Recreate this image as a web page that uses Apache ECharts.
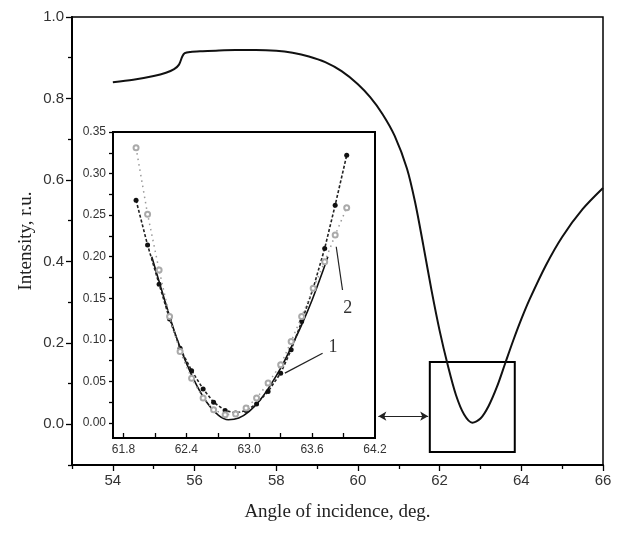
<!DOCTYPE html>
<html style="height:100%;">
<head>
<meta charset="UTF-8" />
<title>Intensity vs angle of incidence</title>
<script src="https://cdn.jsdelivr.net/npm/echarts@6/dist/echarts.min.js"></script>
</head>
<body style="margin:0;padding:0;height:100%;background:#fff;">
<div id="chart" style="width:621px;height:537px;"></div>
<script type="text/javascript">
// main curve: angle (deg) / intensity (r.u.)
const mainAngle = [54.0, 54.5, 55.0, 55.3, 55.5, 55.62, 55.7, 55.76, 55.9, 56.2, 56.6, 57.0, 57.5, 58.0, 58.4, 58.8, 59.2, 59.6, 60.0, 60.3, 60.6, 60.9, 61.2, 61.4, 61.6, 61.8, 62.0, 62.2, 62.4, 62.6, 62.8, 63.0, 63.2, 63.4, 63.6, 63.8, 64.0, 64.2, 64.6, 65.0, 65.5, 66.0];
const mainIntensity = [0.840, 0.846, 0.855, 0.863, 0.872, 0.883, 0.903, 0.911, 0.914, 0.916, 0.918, 0.919, 0.919, 0.917, 0.912, 0.903, 0.889, 0.867, 0.835, 0.803, 0.762, 0.708, 0.628, 0.545, 0.440, 0.330, 0.230, 0.145, 0.072, 0.024, 0.004, 0.014, 0.045, 0.091, 0.148, 0.205, 0.258, 0.306, 0.390, 0.460, 0.528, 0.580];

// inset: measured points 1 (filled) and 2 (open), theory (solid)
const insetAngle = [61.92, 62.03, 62.14, 62.24, 62.34, 62.45, 62.56, 62.66, 62.77, 62.87, 62.97, 63.07, 63.18, 63.3, 63.4, 63.5, 63.61, 63.72, 63.82, 63.93];
const measured1 = [0.268, 0.214, 0.167, 0.125, 0.090, 0.063, 0.041, 0.025, 0.015, 0.012, 0.015, 0.023, 0.038, 0.060, 0.088, 0.122, 0.162, 0.210, 0.262, 0.322];
const measured2 = [0.331, 0.251, 0.184, 0.128, 0.086, 0.054, 0.030, 0.016, 0.010, 0.011, 0.018, 0.030, 0.048, 0.070, 0.098, 0.128, 0.162, 0.194, 0.226, 0.259];
const theoryAngle = [62.07, 62.2, 62.3, 62.4, 62.5, 62.6, 62.7, 62.8, 62.9, 63.0, 63.1, 63.2, 63.3, 63.4, 63.5, 63.6, 63.7, 63.75];
const theoryIntensity = [0.200, 0.145, 0.105, 0.072, 0.045, 0.024, 0.010, 0.004, 0.006, 0.014, 0.027, 0.045, 0.066, 0.091, 0.118, 0.148, 0.182, 0.200];

// ticks
const mainXMajor = [54, 56, 58, 60, 62, 64, 66];
const mainXMinor = [53, 55, 57, 59, 61, 63, 65];
const mainYMajor = [0, 0.2, 0.4, 0.6, 0.8, 1.0];
const mainYMinor = [-0.1, 0.1, 0.3, 0.5, 0.7, 0.9];
const insetXLabels = [61.8, 62.4, 63.0, 63.6, 64.2];
const insetXTicks = [61.8, 62.1, 62.4, 62.7, 63.0, 63.3, 63.6, 63.9];
const insetYLabels = [0, 0.05, 0.10, 0.15, 0.20, 0.25, 0.30, 0.35];
const insetYTicks = [0, 0.025, 0.05, 0.075, 0.10, 0.125, 0.15, 0.175, 0.20, 0.225, 0.25, 0.275, 0.30, 0.325, 0.35];

// zoom box on main plot and the labels for the curves in the inset
const zoomBox = [[61.76, 0.153], [63.84, -0.068]];
const arrowEnds = [[60.5, 0.02], [61.72, 0.02]];
const label1 = {text: '1', at: [63.8, 0.091], line: [[63.70, 0.084], [63.34, 0.060]]};
const label2 = {text: '2', at: [63.94, 0.138], line: [[63.89, 0.160], [63.83, 0.212]]};

const zip = (a, b) => a.map((v, i) => [v, b[i]]);
const sans = 'Liberation Sans, Arial, sans-serif';
const serif = 'Liberation Serif, Times New Roman, serif';

const chart = echarts.init(document.getElementById('chart'));

// axis that only carries labels
function labelAxis(extra, lineWidth) {
	return Object.assign({
		type: 'value',
		splitLine: {show: false},
		axisLine: {show: true, onZero: false, lineStyle: {color: '#000', width: lineWidth}},
		axisTick: {show: false}
	}, extra);
}
// axis that only carries ticks (empty labels)
function tickAxis(extra, ticks, len, inside, lineWidth) {
	return Object.assign({
		type: 'value',
		splitLine: {show: false},
		axisLine: {show: true, onZero: false, lineStyle: {color: '#000', width: lineWidth}},
		axisTick: {show: true, inside: inside, length: len, customValues: ticks, lineStyle: {color: '#000', width: 1.3}},
		axisLabel: {formatter: () => ''}
	}, extra);
}

function markLabel(lbl) {
	return {
		silent: true,
		symbol: 'none',
		lineStyle: {color: '#222', width: 1.2, type: 'solid'},
		label: {show: false},
		data: [[{coord: lbl.line[0]}, {coord: lbl.line[1]}]]
	};
}
function markText(lbl) {
	return {
		silent: true,
		symbol: 'circle',
		symbolSize: 0,
		label: {show: true, position: 'inside', formatter: lbl.text, color: '#333', fontFamily: serif, fontSize: 18},
		data: [{coord: lbl.at}]
	};
}

const option = {
	animation: false,
	backgroundColor: '#fff',
	grid: [
		{left: 72, right: 18, top: 17, bottom: 72, show: true, borderColor: '#000', borderWidth: 1.5},
		{left: 113, top: 132, width: 262, height: 306, show: true, borderColor: '#000', borderWidth: 2}
	],
	xAxis: [
		labelAxis({
			gridIndex: 0, min: 53, max: 66, position: 'bottom',
			name: 'Angle of incidence, deg.', nameLocation: 'middle', nameGap: 38,
			nameTextStyle: {fontFamily: serif, fontSize: 19, color: '#222'},
			axisLabel: {customValues: mainXMajor, fontSize: 15, color: '#333', fontFamily: sans, margin: 8}
		}, 1.5),
		tickAxis({gridIndex: 0, min: 53, max: 66, position: 'bottom'}, mainXMajor, 6, false, 1.5),
		tickAxis({gridIndex: 0, min: 53, max: 66, position: 'bottom'}, mainXMinor, 4, false, 1.5),
		labelAxis({
			gridIndex: 1, min: 61.7, max: 64.2, position: 'bottom',
			axisLabel: {customValues: insetXLabels, fontSize: 12, color: '#333', fontFamily: sans, margin: 6,
				formatter: v => v.toFixed(1)}
		}, 2),
		tickAxis({gridIndex: 1, min: 61.7, max: 64.2, position: 'bottom'}, insetXTicks, 5, true, 2)
	],
	yAxis: [
		labelAxis({
			gridIndex: 0, min: -0.1, max: 1.0, position: 'left',
			name: 'Intensity, r.u.', nameLocation: 'middle', nameGap: 36, nameMoveOverlap: false,
			nameTextStyle: {fontFamily: serif, fontSize: 19, color: '#222'},
			axisLabel: {customValues: mainYMajor, fontSize: 15, color: '#333', fontFamily: sans, margin: 8,
				formatter: v => v.toFixed(1)}
		}, 1.5),
		tickAxis({gridIndex: 0, min: -0.1, max: 1.0, position: 'left'}, mainYMajor, 6, false, 1.5),
		tickAxis({gridIndex: 0, min: -0.1, max: 1.0, position: 'left'}, mainYMinor, 4, false, 1.5),
		labelAxis({
			gridIndex: 1, min: -0.018, max: 0.35, position: 'left',
			axisLabel: {customValues: insetYLabels, fontSize: 12, color: '#333', fontFamily: sans, margin: 7,
				formatter: v => v.toFixed(2)}
		}, 2),
		tickAxis({gridIndex: 1, min: -0.018, max: 0.35, position: 'left'}, insetYTicks, 4, false, 2)
	],
	series: [
		{
			name: 'main',
			type: 'line',
			xAxisIndex: 0, yAxisIndex: 0,
			data: zip(mainAngle, mainIntensity),
			showSymbol: false,
			smooth: 0.3,
			lineStyle: {color: '#111', width: 2},
			markArea: {
				silent: true,
				itemStyle: {color: 'rgba(0,0,0,0)', borderColor: '#000', borderWidth: 2},
				data: [[{coord: zoomBox[0]}, {coord: zoomBox[1]}]]
			},
			markLine: {
				silent: true,
				symbol: ['arrow', 'arrow'],
				symbolSize: [7, 8],
				lineStyle: {color: '#222', width: 1.2, type: 'solid'},
				label: {show: false},
				data: [[{coord: arrowEnds[0]}, {coord: arrowEnds[1]}]]
			}
		},
		{
			name: 'theory',
			type: 'line',
			xAxisIndex: 3, yAxisIndex: 3,
			data: zip(theoryAngle, theoryIntensity),
			showSymbol: false,
			smooth: 0.4,
			lineStyle: {color: '#111', width: 1.6},
			z: 3
		},
		{
			name: '1',
			type: 'line',
			xAxisIndex: 3, yAxisIndex: 3,
			data: zip(insetAngle, measured1),
			symbol: 'circle',
			symbolSize: 5,
			showAllSymbol: true,
			itemStyle: {color: '#111'},
			lineStyle: {color: '#222', width: 1.6, type: [3, 2]},
			markLine: markLabel(label1),
			markPoint: markText(label1),
			z: 4
		},
		{
			name: '2',
			type: 'line',
			xAxisIndex: 3, yAxisIndex: 3,
			data: zip(insetAngle, measured2),
			symbol: 'emptyCircle',
			symbolSize: 5,
			showAllSymbol: true,
			itemStyle: {color: '#aaa', borderColor: '#aaa', borderWidth: 1},
			lineStyle: {color: '#999', width: 1.5, type: [1.5, 4]},
			markLine: markLabel(label2),
			markPoint: markText(label2),
			z: 5
		}
	]
};
chart.setOption(option);
</script>
</body>
</html>
